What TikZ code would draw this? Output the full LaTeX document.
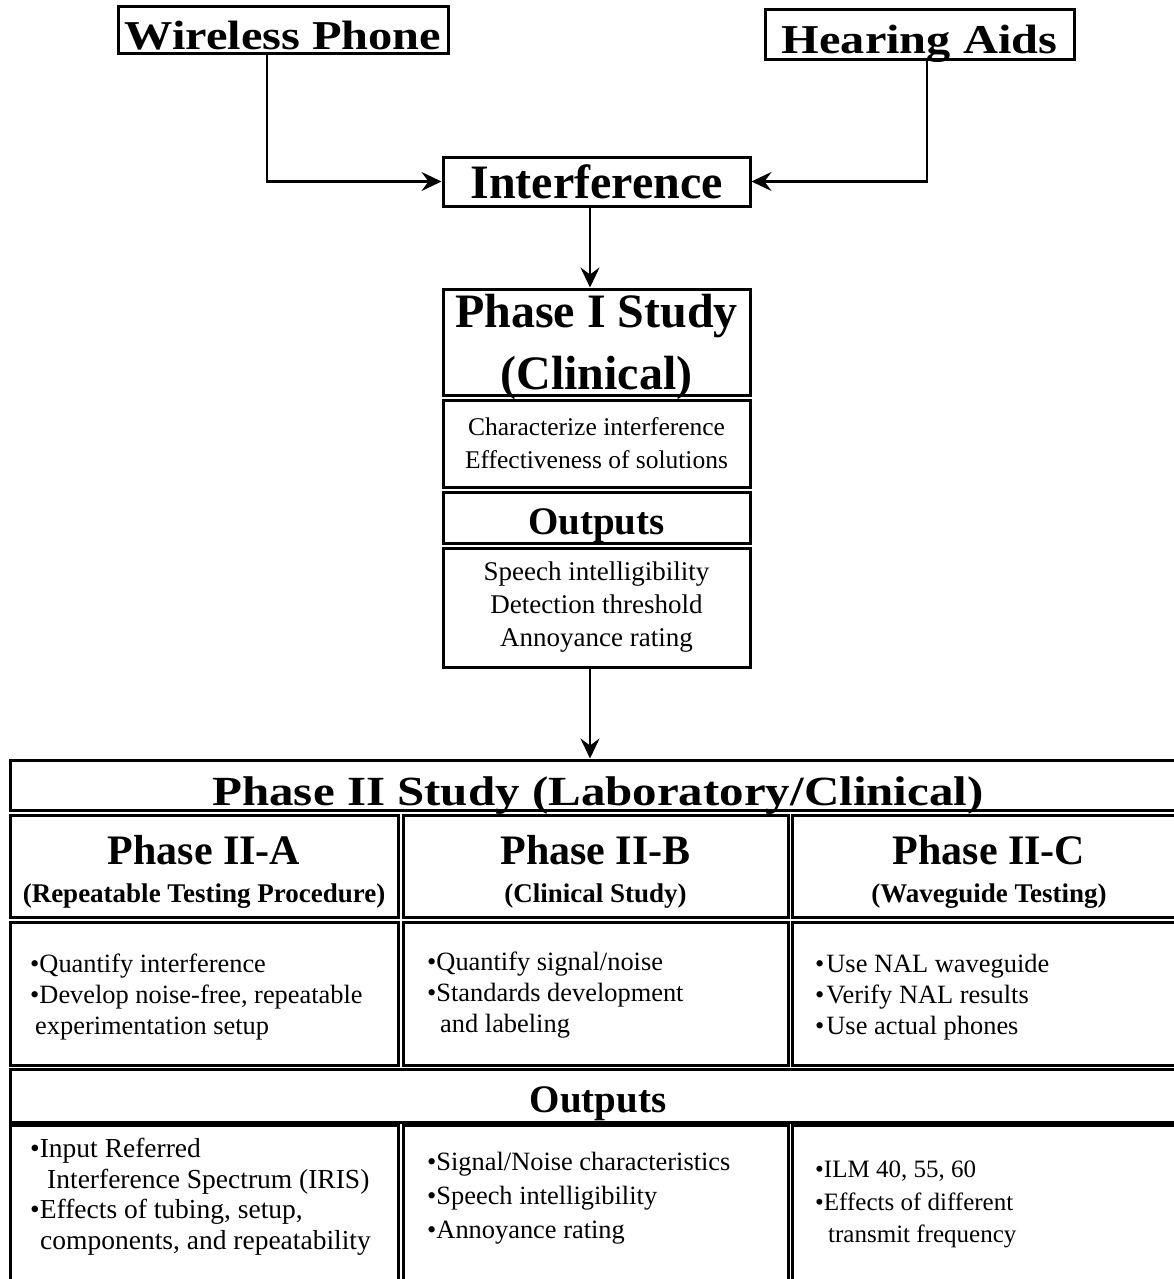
\documentclass[tikz,border=0pt]{standalone}
\usepackage{fontspec}
\setmainfont{Liberation Serif}
\newfontfamily\widefont[FakeStretch=1.18]{Liberation Serif}
\usetikzlibrary{arrows.meta}

\begin{document}
\begin{tikzpicture}[x=1pt,y=-1pt,
	box/.style={draw,line width=3pt,inner sep=0pt,align=center},
	arr/.style={line width=2.5pt,-{Stealth[length=20pt,width=19pt,inset=7pt]}},
	wide/.style={font=\widefont\bfseries\fontsize{41}{48}\selectfont,text height=38pt,text depth=0pt},
	head/.style={font=\widefont\bfseries\fontsize{41.5}{48}\selectfont,text height=40pt,text depth=0pt},
	title/.style={font=\bfseries\fontsize{48}{62}\selectfont,text depth=0pt},
	outs/.style={font=\bfseries\fontsize{39}{44}\selectfont,text height=33pt,text depth=0pt},
	body/.style={font=\fontsize{#1}{33}\selectfont},
	sub/.style={font=\bfseries\fontsize{27}{38}\selectfont,text height=73pt,text depth=0pt},
	list/.style={anchor=north west,inner sep=0pt,align=left,font=\fontsize{26.4}{31}\selectfont}]
\useasboundingbox (0,0) rectangle (1174,1279);
\clip (0,0) rectangle (1174,1279);

% sources
\node[box,wide,minimum width=330pt,minimum height=47pt] (wp) at (283,30.5) {Wireless Phone};
\node[box,wide,minimum width=309pt,minimum height=50pt] (ha) at (919.5,35) {Hearing Aids};
\node[box,title,minimum width=307pt,minimum height=49pt] (intf) at (596.5,181.5) {Interference};

% phase I
\node[box,title,minimum width=307pt,minimum height=106pt] (ph1) at (596.5,342) {Phase I Study\\(Clinical)};
\node[box,body=25.5,minimum width=307pt,minimum height=87pt] (ph1t) at (596.5,443.5) {Characterize interference\\Effectiveness of solutions};
\node[box,outs,minimum width=307pt,minimum height=51pt] (ph1o) at (596.5,517.5) {Outputs};
\node[box,body=27,minimum width=307pt,minimum height=119pt] (ph1r) at (596.5,607.5) {Speech intelligibility\\Detection threshold\\Annoyance rating};

% phase II
\node[box,head,minimum width=1176pt,minimum height=50pt] (ph2) at (598,785) {Phase II Study (Laboratory/Clinical)};
\node[box,sub,minimum width=388pt,minimum height=102pt] (pa) at (204,866) {{\fontsize{42}{42}\selectfont Phase II-A}\\(Repeatable Testing Procedure)};
\node[box,sub,minimum width=385pt,minimum height=102pt] (pb) at (595.5,866) {{\fontsize{42}{42}\selectfont Phase II-B}\\(Clinical Study)};
\node[box,sub,minimum width=394pt,minimum height=102pt] (pc) at (989,866) {{\fontsize{42}{42}\selectfont Phase II-C}\\(Waveguide Testing)};
\node[box,minimum width=388pt,minimum height=143pt] (pa1) at (204,993.5) {};
\node[box,minimum width=385pt,minimum height=143pt] (pb1) at (595.5,993.5) {};
\node[box,minimum width=394pt,minimum height=143pt] (pc1) at (989,993.5) {};
\node[box,outs,minimum width=1176pt,minimum height=53pt] (ph2o) at (598,1095.5) {Outputs};
\node[box,minimum width=388pt,minimum height=170pt] (pa2) at (204,1210) {};
\node[box,minimum width=385pt,minimum height=170pt] (pb2) at (595.5,1210) {};
\node[box,minimum width=394pt,minimum height=170pt] (pc2) at (989,1210) {};

% lists
\node[list] (pa1t) at (30,954) {•Quantify interference\\•Develop noise-free, repeatable\\\hspace*{5pt}experimentation setup};
\node[list] (pb1t) at (427,952) {•Quantify signal/noise\\•Standards development\\\hspace*{13pt}and labeling};
\node[list] (pc1t) at (815,954) {•\hspace{2pt}Use NAL waveguide\\•\hspace{2pt}Verify NAL results\\•\hspace{2pt}Use actual phones};
\node[list,font=\fontsize{27.5}{30.5}\selectfont] (pa2t) at (30,1138) {•Input Referred\\\hspace*{17pt}Interference Spectrum (IRIS)\\•Effects of tubing, setup,\\\hspace*{10pt}components, and repeatability};
\node[list,font=\fontsize{26.4}{34}\selectfont] (pb2t) at (427,1152) {•Signal/Noise characteristics\\•Speech intelligibility\\•Annoyance rating};
\node[list,font=\fontsize{25}{32.5}\selectfont] (pc2t) at (815,1161) {•ILM 40, 55, 60\\•Effects of different\\\hspace*{13pt}transmit frequency};

% connectors
\draw[arr] ([xshift=-16pt]wp.south) |- (intf.west);
\draw[arr] ([xshift=7.5pt]ha.south) |- (intf.east);
\draw[arr] ([xshift=-6.5pt]intf.south) -- ([xshift=-6.5pt]ph1.north);
\draw[arr] ([xshift=-6.5pt]ph1r.south) -- ([xshift=-6.5pt]ph1r.south |- ph2.north);
\end{tikzpicture}
\end{document}
